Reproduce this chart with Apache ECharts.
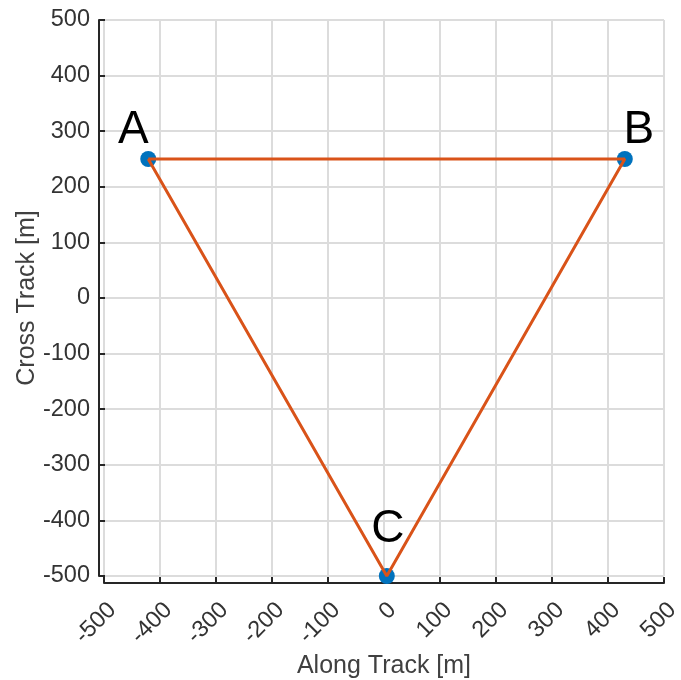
<!DOCTYPE html>
<html>
<head>
<meta charset="utf-8">
<script src="https://cdn.jsdelivr.net/npm/echarts@6/dist/echarts.min.js"></script>
<style>
  html, body { margin: 0; padding: 0; background: #fff; }
  #chart { width: 681px; height: 680px; }
</style>
</head>
<body>
<div id="chart"></div>
<script>
// Vertex names and positions of the track triangle (metres)
const vertexNames = ['A', 'B', 'C'];
const alongTrack = [-421, 430, 5];
const crossTrack = [250, 250, -500];
// Order in which the track visits the vertices (closed loop)
const pathOrder = [0, 1, 2, 0];
// Axis tick values
const tickValues = [-500, -400, -300, -200, -100, 0, 100, 200, 300, 400, 500];

// Where each vertex name sits relative to its marker
const labelPlacement = [
  { position: 'top', offset: [-15, 7] },
  { position: 'top', offset: [14, 7] },
  { position: 'top', offset: [1, -11] }
];

const FONT = 'Liberation Sans, Arial, sans-serif';
const axisColor = '#262626';
const gridColor = '#dcdcdc';
const nameStyle = { fontFamily: FONT, fontSize: 46, color: '#000000' };

const vertexData = vertexNames.map((name, i) => ({
  value: [alongTrack[i], crossTrack[i]],
  name: name,
  label: Object.assign({ show: true, formatter: name }, nameStyle, labelPlacement[i])
}));
const pathData = pathOrder.map(i => [alongTrack[i], crossTrack[i]]);

const axisCommon = {
  type: 'value',
  min: tickValues[0],
  max: tickValues[tickValues.length - 1],
  interval: tickValues[1] - tickValues[0],
  axisLine: { show: true, onZero: false, lineStyle: { color: axisColor, width: 2 } },
  axisTick: { show: true, inside: true, length: 6, lineStyle: { color: axisColor, width: 2 } },
  splitLine: { show: true, lineStyle: { color: gridColor, width: 2 } },
  nameLocation: 'middle',
  nameMoveOverlap: false,
  nameTextStyle: { fontFamily: FONT, fontSize: 25, color: '#404040' }
};

const chart = echarts.init(document.getElementById('chart'), null, { renderer: 'canvas' });
chart.setOption({
  animation: false,
  backgroundColor: '#ffffff',
  grid: {
    left: 104, right: 17, top: 20, bottom: 104,
    containLabel: false, outerBoundsMode: 'none'
  },
  xAxis: Object.assign({}, axisCommon, {
    name: 'Along Track [m]',
    nameGap: 71,
    offset: 7,
    axisLabel: {
      rotate: 45, margin: 15, verticalAlign: 'top',
      fontFamily: FONT, fontSize: 23.5, color: '#333333'
    }
  }),
  yAxis: Object.assign({}, axisCommon, {
    name: 'Cross Track [m]',
    nameGap: 59,
    offset: 5,
    axisLabel: { margin: 9, fontFamily: FONT, fontSize: 23.5, color: '#333333' }
  }),
  series: [
    {
      type: 'scatter',
      data: vertexData,
      symbol: 'circle',
      symbolSize: 16,
      itemStyle: { color: '#0072BD', opacity: 1 },
      label: nameStyle,
      z: 2
    },
    {
      type: 'line',
      data: pathData,
      showSymbol: false,
      symbol: 'none',
      lineStyle: { color: '#D95319', width: 3 },
      z: 3
    }
  ]
});
</script>
</body>
</html>
